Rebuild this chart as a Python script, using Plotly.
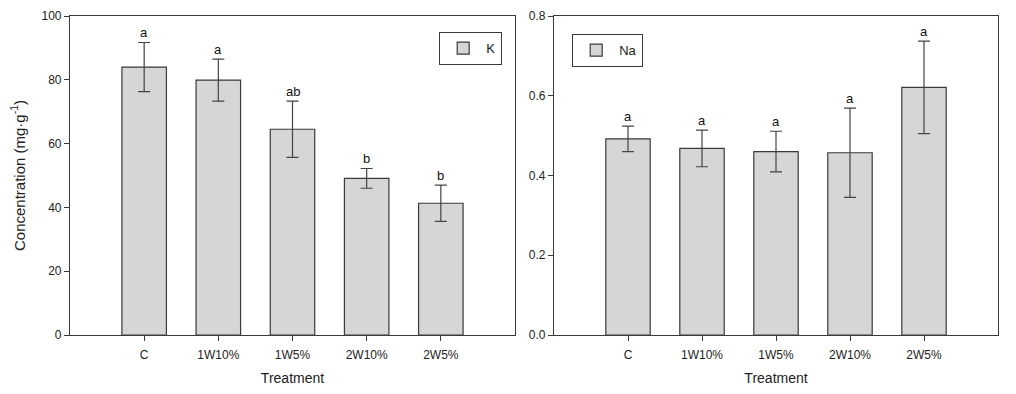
import plotly.graph_objects as go

treatments = ["C", "1W10%", "1W5%", "2W10%", "2W5%"]
k_values = [84.0, 79.9, 64.5, 49.1, 41.3]
k_errors = [7.7, 6.6, 8.8, 3.1, 5.7]
k_letters = ["a", "a", "ab", "b", "b"]
na_values = [0.492, 0.468, 0.460, 0.457, 0.621]
na_errors = [0.032, 0.046, 0.051, 0.112, 0.116]
na_letters = ["a", "a", "a", "a", "a"]

# page has an 8px body margin, so the figure is drawn 8px in from the window edge
OFF = 8
W, H = 1000, 378
FONT = "Liberation Sans, Arial, sans-serif"
BAR_FILL = "#d6d6d6"
LINE = "#3a3a3a"

TOP = 16 - OFF
BOT = 335 - OFF
PH = BOT - TOP

fig = go.Figure()
fig.add_trace(go.Bar(
    x=treatments, y=k_values, name="K", width=0.6,
    marker=dict(color=BAR_FILL, line=dict(color=LINE, width=1.2)),
    error_y=dict(type="data", array=k_errors, visible=True, color="#444", thickness=1.2, width=6),
    xaxis="x", yaxis="y", legend="legend",
))
fig.add_trace(go.Bar(
    x=treatments, y=na_values, name="Na", width=0.6,
    marker=dict(color=BAR_FILL, line=dict(color=LINE, width=1.2)),
    error_y=dict(type="data", array=na_errors, visible=True, color="#444", thickness=1.2, width=6),
    xaxis="x2", yaxis="y2", legend="legend2",
))

annotations = []
for t, v, e, l in zip(treatments, k_values, k_errors, k_letters):
    annotations.append(dict(x=t, y=v + e, xref="x", yref="y", text=l, showarrow=False,
                            yanchor="bottom", yshift=0, font=dict(size=13, color="#111", family=FONT)))
for t, v, e, l in zip(treatments, na_values, na_errors, na_letters):
    annotations.append(dict(x=t, y=v + e, xref="x2", yref="y2", text=l, showarrow=False,
                            yanchor="bottom", yshift=0, font=dict(size=13, color="#111", family=FONT)))

axis_common = dict(showline=True, linecolor=LINE, linewidth=1.2, mirror=True,
                   ticks="outside", ticklen=5, tickcolor=LINE, showgrid=False, zeroline=False,
                   tickfont=dict(size=12, color="#222", family=FONT))


def ly(y):
    return (BOT - (y - OFF)) / PH


fig.update_layout(
    width=W, height=H,
    margin=dict(l=0, r=0, t=TOP, b=H - BOT),
    paper_bgcolor="white", plot_bgcolor="white",
    font=dict(family=FONT, color="#222"),
    showlegend=True,
    xaxis=dict(domain=[(70 - OFF) / W, (515 - OFF) / W], range=[-1, 5], type="category", anchor="y",
               ticklabelstandoff=3,
               title=dict(text="Treatment", font=dict(size=14), standoff=16), automargin=False, **axis_common),
    yaxis=dict(domain=[0, 1], range=[0, 100], dtick=20, anchor="x",
               title=dict(text="Concentration (mg·g<sup>-1</sup>)", font=dict(size=15), standoff=12),
               automargin=False, **axis_common),
    xaxis2=dict(domain=[(554 - OFF) / W, (998 - OFF) / W], range=[-1, 5], type="category", anchor="y2",
                ticklabelstandoff=3,
                title=dict(text="Treatment", font=dict(size=14), standoff=16), automargin=False, **axis_common),
    yaxis2=dict(domain=[0, 1], range=[0, 0.8], dtick=0.2, tickformat=".1f", anchor="x2",
                automargin=False, **axis_common),
    legend=dict(x=(439 - OFF) / W, y=ly(32), xref="paper", yref="paper",
                xanchor="left", yanchor="top", bordercolor=LINE, borderwidth=1.2, bgcolor="white",
                font=dict(size=13, family=FONT), itemwidth=36),
    legend2=dict(x=(572 - OFF) / W, y=ly(34), xref="paper", yref="paper",
                 xanchor="left", yanchor="top", bordercolor=LINE, borderwidth=1.2, bgcolor="white",
                 font=dict(size=13, family=FONT), itemwidth=36),
    annotations=annotations,
)

fig.write_html("out.html")
